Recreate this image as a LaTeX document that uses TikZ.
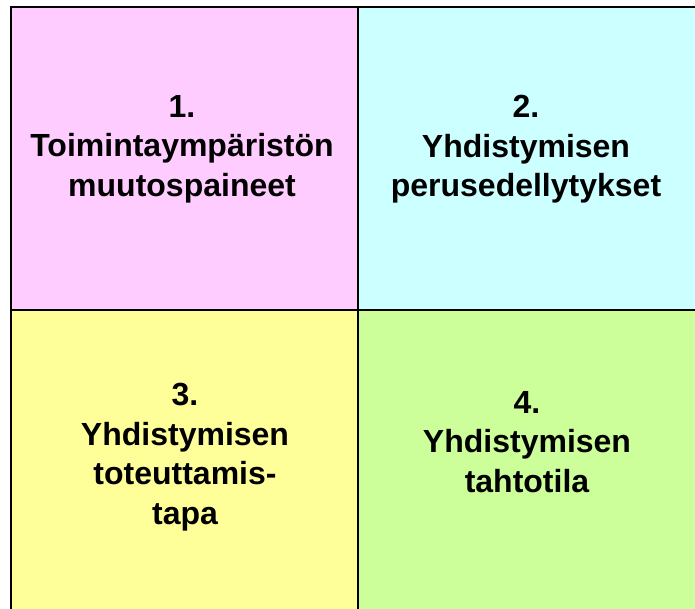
\documentclass[tikz,border=0pt]{standalone}
\usepackage{fontspec}
\setmainfont{Liberation Sans}
\usetikzlibrary{positioning}
\definecolor{cPink}  {RGB}{255, 204, 255}
\definecolor{cCyan}  {RGB}{204, 255, 255}
\definecolor{cYellow}{RGB}{255, 255, 153}
\definecolor{cGreen} {RGB}{204, 255, 153}
\tikzset{
  cell/.style = {draw=black, line width=2.2pt, inner sep=0pt,
                 minimum width=347pt, minimum height=303pt},
  lbl/.style  = {align=center, inner sep=0pt, anchor=north,
                 font=\fontsize{32}{39.5}\selectfont\bfseries},
}
\begin{document}
\begin{tikzpicture}[x=1pt, y=-1pt]

%% Layout (pt = px): left 11, top 7, middle x 358, middle y 310
\useasboundingbox (0,0) rectangle (695,608);
\clip (0,0) rectangle (695,608);

%% ─── cells ───────────────────────────────────────────────────────
\node[cell, fill=cPink]   (c1) at (184.5, 158.5) {};
\node[cell, fill=cCyan]   (c2) at (531.5, 158.5) {};
\node[cell, fill=cYellow] (c3) at (184.5, 461.5) {};
\node[cell, fill=cGreen]  (c4) at (531.5, 461.5) {};

%% ─── labels ──────────────────────────────────────────────────────
\node[lbl] (t1) at (182, 95)  {1.\\Toimintaympäristön\\muutospaineet};
\node[lbl] (t2) at (526, 95)  {2.\\Yhdistymisen\\perusedellytykset};
\node[lbl] (t3) at (185, 383) {3.\\Yhdistymisen\\toteuttamis-\\tapa};
\node[lbl] (t4) at (527, 391) {4.\\Yhdistymisen\\tahtotila};

\end{tikzpicture}
\end{document}
